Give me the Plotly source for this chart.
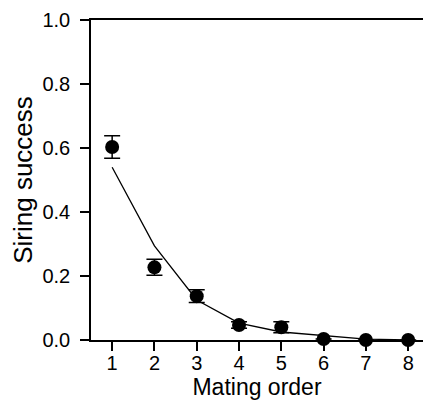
import plotly.graph_objects as go

mating_order = [1, 2, 3, 4, 5, 6, 7, 8]
siring_mean = [0.603, 0.227, 0.137, 0.047, 0.040, 0.003, 0.0, 0.0]
siring_err = [0.035, 0.025, 0.020, 0.010, 0.017, 0.0, 0.0, 0.0]
model_fit = [0.54, 0.294, 0.125, 0.053, 0.025, 0.013, 0.003, 0.0]

y_ticks = [0.0, 0.2, 0.4, 0.6, 0.8, 1.0]

FONT = "Liberation Sans, Arial, sans-serif"

fig = go.Figure()
fig.add_trace(go.Scatter(
    x=mating_order, y=model_fit, mode="lines",
    line=dict(color="black", width=1.3), showlegend=False, cliponaxis=False,
))
fig.add_trace(go.Scatter(
    x=mating_order, y=siring_mean, mode="markers",
    marker=dict(color="black", size=14, line=dict(width=0)),
    error_y=dict(type="data", array=siring_err, visible=True,
                 color="black", thickness=1.5, width=8),
    showlegend=False, cliponaxis=False,
))

fig.update_layout(
    width=423, height=400,
    margin=dict(l=91, r=0, t=20, b=60),
    paper_bgcolor="white", plot_bgcolor="white",
    font=dict(family=FONT, color="black", size=20),
    xaxis=dict(
        range=[0.5, 8.35], tickvals=mating_order,
        ticks="outside", ticklen=9, tickwidth=1.5, tickcolor="black",
        showline=True, linecolor="black", linewidth=1.5, mirror=True,
        showgrid=False, zeroline=False,
        tickfont=dict(size=20), ticklabelstandoff=-5,
        title=dict(text="Mating order", font=dict(size=23), standoff=0),
    ),
    yaxis=dict(
        range=[0, 1], tickvals=y_ticks, tickformat=".1f",
        ticks="outside", ticklen=9, tickwidth=1.5, tickcolor="black",
        showline=True, linecolor="black", linewidth=1.5,
        showgrid=False, zeroline=False,
        tickfont=dict(size=20), ticklabelstandoff=6,
        title=dict(text="Siring success", font=dict(size=26), standoff=2),
    ),
)

fig.write_html(
    "out.html",
    config={"displayModeBar": False},
    post_script="document.body.style.margin='0';document.body.style.overflow='hidden';",
)
